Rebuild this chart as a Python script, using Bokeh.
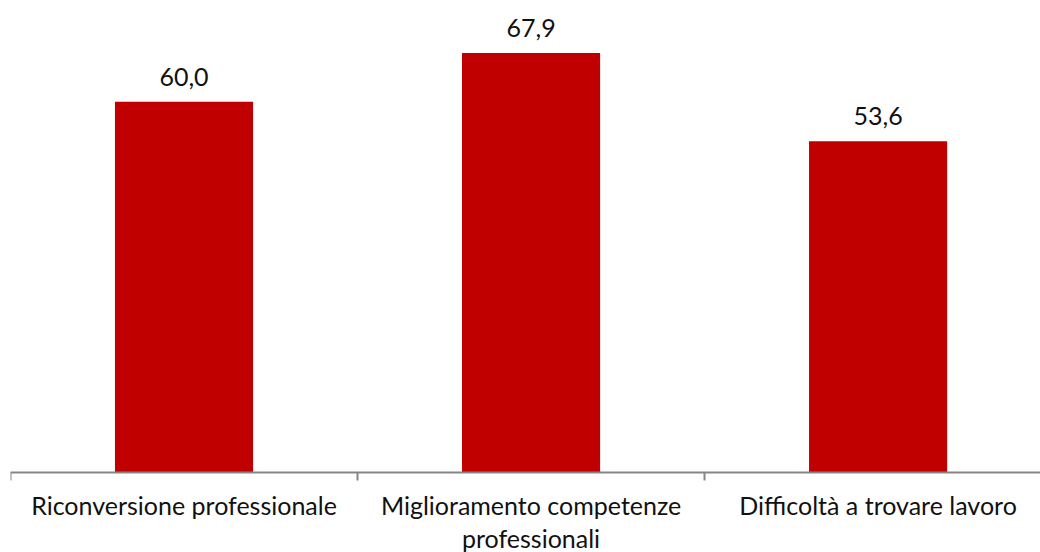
from bokeh.plotting import figure
from bokeh.models import ColumnDataSource, FixedTicker, Range1d
from bokeh.core.properties import value
from bokeh.embed import file_html
from bokeh.resources import INLINE

categories = ["Riconversione professionale", "Miglioramento competenze\nprofessionali", "Difficoltà a trovare lavoro"]
values = [60.0, 67.9, 53.6]
labels = [f"{v:.1f}".replace(".", ",") for v in values]

xs = [i + 0.5 for i in range(len(categories))]
src = ColumnDataSource(dict(x=xs, top=values, label=labels))

FONT = "Lato"

p = figure(width=1040, height=552, output_backend="svg", toolbar_location=None,
           x_range=Range1d(0, 2.968), y_range=Range1d(-12.95, 76.4),
           min_border_left=10, min_border_right=0, min_border_top=0, min_border_bottom=0)
p.outline_line_color = None
p.background_fill_color = "white"
p.border_fill_color = "white"
p.grid.visible = False
p.yaxis.visible = False

p.vbar(x="x", top="top", width=0.398, bottom=0, source=src, color="#C00000", line_color=None)
p.text(x="x", y="top", text="label", source=src, text_align="center", text_baseline="bottom",
       y_offset=-16, text_font=value(FONT), text_font_size="25px", text_color="#111111")

ax = p.xaxis[0]
ax.fixed_location = 0
ax.ticker = FixedTicker(ticks=xs, minor_ticks=[0, 1, 2, 3])
ax.major_label_overrides = {x: c for x, c in zip(xs, categories)}
ax.major_tick_out = 0
ax.major_tick_in = 0
ax.minor_tick_out = 8
ax.minor_tick_in = 0
ax.minor_tick_line_color = "#868686"
ax.minor_tick_line_width = 2
ax.axis_line_color = "#868686"
ax.axis_line_width = 2
ax.major_label_text_font = FONT
ax.major_label_text_font_size = "25px"
ax.major_label_text_color = "#111111"
ax.major_label_text_line_height = 1.1
ax.major_label_standoff = 10

open("out.html", "w").write(file_html(p, INLINE))
